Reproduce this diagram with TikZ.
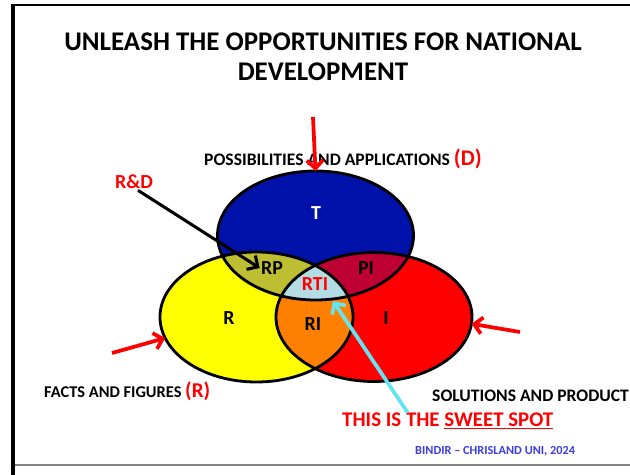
\documentclass[tikz,border=0pt]{standalone}
\usepackage{fontspec}
\setmainfont{Carlito}
\usetikzlibrary{shapes.geometric,arrows.meta,positioning}

\definecolor{setT}{RGB}{0,18,170}
\definecolor{setR}{RGB}{255,255,0}
\definecolor{setI}{RGB}{255,0,0}
\definecolor{ovRP}{RGB}{190,190,50}
\definecolor{ovPI}{RGB}{190,0,50}
\definecolor{ovRI}{RGB}{255,128,0}
\definecolor{ovRTI}{RGB}{180,220,228}
\definecolor{spotcyan}{RGB}{100,228,240}
\definecolor{signblue}{RGB}{60,60,230}
\definecolor{framegray}{RGB}{130,130,130}

\begin{document}
\begin{tikzpicture}[
  x=0.03cm, y=-0.03cm,
  %% ── set shapes (used as fills and clips) ──────────────────────────
  Rshape/.style={insert path={(256.5,317) ellipse [x radius=2.895cm, y radius=1.95cm]}},
  Ishape/.style={insert path={(374,317) ellipse [x radius=2.94cm, y radius=1.935cm]}},
  Tshape/.style={insert path={(315.5,235.5) ellipse [x radius=2.94cm, y radius=1.935cm]}},
  %% ── node styles ───────────────────────────────────────────────────
  setnode/.style={ellipse, draw=black, line width=2.4pt,
                  inner sep=0pt, outer sep=0pt},
  lbl/.style={font=\fontsize{17}{17}\selectfont\bfseries, inner sep=1pt},
  captxt/.style={font=\fontsize{15}{17}\selectfont\bfseries, anchor=west, inner sep=0pt},
  %% ── arrows ────────────────────────────────────────────────────────
  redarr/.style={-{Straight Barb[length=7pt,width=14pt]}, line width=3.2pt, red},
  blkarr/.style={-{Straight Barb[length=7pt,width=14pt]}, line width=2.6pt, black},
  cyanarr/.style={-{Straight Barb[length=7pt,width=14pt]}, line width=3.2pt, spotcyan},
]
\useasboundingbox (0,0) rectangle (630,475);

%% frame of the slide
\draw[line width=2pt] (630,5) -- (13,5);
\draw[framegray, line width=1.3pt] (13,465) -- (630,465);
\draw[line width=2.6pt] (13,4) -- (13,475);

%% title
\node[font=\fontsize{23}{26}\selectfont\bfseries, align=center] (title) at (323,57)
  {UNLEASH THE OPPORTUNITIES FOR NATIONAL\\DEVELOPMENT};

%% ── the three sets ─────────────────────────────────────────────────
\fill[setR, Rshape];
\fill[setI, Ishape];
\fill[setT, Tshape];

%% overlaps
\begin{scope}
  \clip[Rshape];
  \fill[ovRP, Tshape];
\end{scope}
\begin{scope}
  \clip[Ishape];
  \fill[ovPI, Tshape];
\end{scope}
\begin{scope}
  \clip[Rshape];
  \fill[ovRI, Ishape];
\end{scope}
\begin{scope}
  \clip[Rshape];
  \clip[Ishape];
  \fill[ovRTI, Tshape];
\end{scope}

%% outlines
\node[setnode, minimum width=5.79cm, minimum height=3.9cm]  (Rset) at (256.5,317) {};
\node[setnode, minimum width=5.88cm, minimum height=3.87cm] (Iset) at (374,317) {};
\node[setnode, minimum width=5.88cm, minimum height=3.87cm] (Tset) at (315.5,235.5) {};

%% region labels
\node[lbl, text=white] (T)   at (316,213) {T};
\node[lbl]             (RP)  at (272,268) {RP};
\node[lbl]             (PI)  at (366,268) {PI};
\node[lbl, text=red]   (RTI) at (315,284) {RTI};
\node[lbl]             (R)   at (229,318) {R};
\node[lbl]             (RI)  at (313,324) {RI};
\node[lbl]             (I)   at (386,318) {I};

%% ── captions ───────────────────────────────────────────────────────
\node[captxt] (poss) at (204,159)
  {POSSIBILITIES AND APPLICATIONS {\fontsize{19}{19}\selectfont\color{red}(D)}};
\node[captxt, font=\fontsize{14}{16}\selectfont\bfseries] (facts) at (44,391)
  {FACTS AND FIGURES {\fontsize{18}{18}\selectfont\color{red}(R)}};
\node[captxt] (sol) at (432,396) {SOLUTIONS AND PRODUCT};
\node[lbl, text=red] (rnd) at (134,182) {R\&D};
\node[captxt, font=\fontsize{17.8}{19}\selectfont\bfseries, text=red] (sweet) at (342,421)
  {THIS IS THE \underline{SWEET SPOT}};
\node[captxt, font=\fontsize{10.5}{12}\selectfont\bfseries, text=signblue] (sign) at (415,451)
  {BINDIR -- CHRISLAND UNI, 2024};

%% ── pointers ───────────────────────────────────────────────────────
\coordinate (dtop)  at (313,117);
\coordinate (rtail) at (112,353);
\coordinate (itail) at (520,332);
\coordinate (spot)  at (333,301);

\draw[redarr] (dtop)  -- (Tset.north);
\draw[redarr] (rtail) -- (Rset.193);
\draw[redarr] (itail) -- (Iset.356);
\draw[blkarr] ([xshift=0.12cm]rnd.south) -- (RP.west);
\draw[cyanarr] ([xshift=-1.2cm]sweet.north) -- (spot);

\end{tikzpicture}
\end{document}
